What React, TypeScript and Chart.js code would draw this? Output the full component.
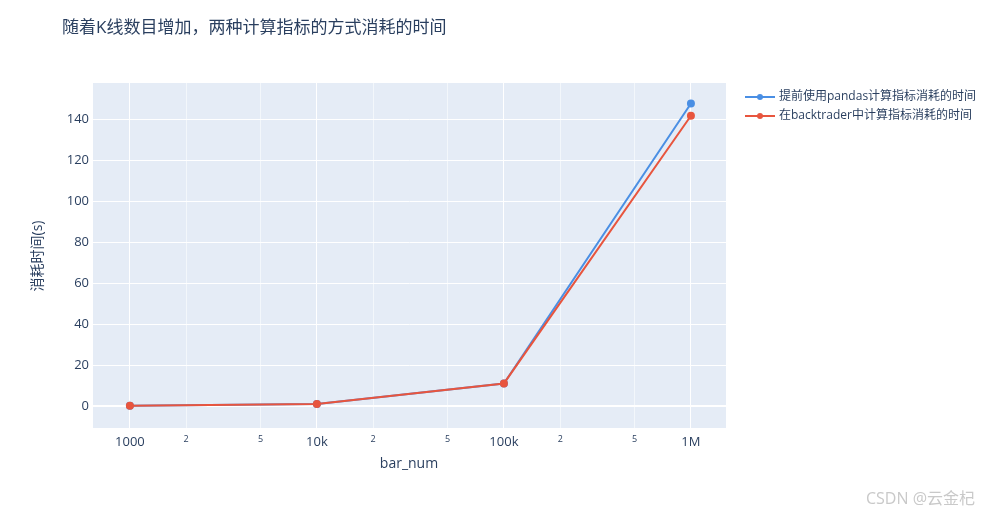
import React, { useEffect, useRef } from "react";
import { Chart, registerables } from "chart.js";

Chart.register(...registerables);

const barNum = [1000, 10000, 100000, 1000000];
const pandasTime = [0.1, 1, 11, 148];
const backtraderTime = [0.1, 1, 11, 142];
const xTicks = [1000, 2000, 5000, 10000, 20000, 50000, 100000, 200000, 500000, 1000000];
const xLabels: Record<number, string> = { 1000: "1000", 10000: "10k", 100000: "100k", 1000000: "1M" };
const yTicks = [0, 20, 40, 60, 80, 100, 120, 140];
const seriesNames = ["提前使用pandas计算指标消耗的时间", "在backtrader中计算指标消耗的时间"];
const colors = ["#4a8fe4", "#e8553e"];

const FONT = '"Open Sans", "Noto Sans CJK SC", sans-serif';
const TEXT = "#2a3f5f";

const overlay = {
  id: "overlay",
  afterDraw(chart: Chart) {
    const c = chart.ctx;
    c.save();
    c.fillStyle = TEXT;
    c.textBaseline = "middle";
    c.font = `17px ${FONT}`;
    c.fillText("随着K线数目增加，两种计算指标的方式消耗的时间", 62, 28);
    c.font = `12px ${FONT}`;
    seriesNames.forEach((name, i) => {
      const y = 97 + i * 19;
      c.strokeStyle = colors[i];
      c.lineWidth = 2;
      c.beginPath();
      c.moveTo(745, y);
      c.lineTo(775, y);
      c.stroke();
      c.fillStyle = colors[i];
      c.beginPath();
      c.arc(760, y, 3, 0, Math.PI * 2);
      c.fill();
      c.fillStyle = TEXT;
      c.fillText(name, 779, y);
    });
    // axis titles
    c.font = `14px ${FONT}`;
    c.textAlign = "center";
    c.fillText("bar_num", 409, 464);
    c.save();
    c.translate(38, 256);
    c.rotate(-Math.PI / 2);
    c.fillText("消耗时间(s)", 0, 0);
    c.restore();
    c.font = `16px ${FONT}`;
    c.fillStyle = "#c9c9c9";
    c.textAlign = "right";
    c.fillText("CSDN @云金杞", 975, 499);
    c.restore();
  },
};

const bg = {
  id: "bg",
  beforeDraw(chart: Chart) {
    const { ctx, chartArea: a } = chart;
    ctx.save();
    ctx.fillStyle = "#e5ecf6";
    ctx.fillRect(a.left, a.top, a.right - a.left, a.bottom - a.top);
    ctx.restore();
  },
};

export default function App() {
  const ref = useRef<HTMLCanvasElement>(null);
  useEffect(() => {
    document.body.style.margin = "0";
    if (!ref.current) return;
    const chart = new Chart(ref.current, {
      type: "line",
      data: {
        datasets: [pandasTime, backtraderTime].map((d, i) => ({
          label: seriesNames[i],
          data: d.map((v, j) => ({ x: barNum[j], y: v })),
          borderColor: colors[i],
          backgroundColor: colors[i],
          borderWidth: 2,
          pointRadius: 3,
          pointHoverRadius: 3,
          tension: 0,
          order: 1 - i,
        })),
      },
      options: {
        animation: false,
        responsive: false,
        layout: { padding: { left: 0, top: 83, right: 265, bottom: 0 } },
        plugins: { legend: { display: false }, tooltip: { enabled: false } },
        scales: {
          x: {
            type: "logarithmic",
            min: 635,
            max: 1540000,
            afterBuildTicks: (s: any) => {
              s.ticks = xTicks.map((v) => ({ value: v, major: !!xLabels[v] }));
            },
            afterFit: (s: any) => {
              s.height = 90;
            },
            ticks: {
              autoSkip: false,
              maxRotation: 0,
              color: TEXT,
              padding: 6,
              callback: (v: any) => xLabels[v as number] ?? String(Number(v) / Math.pow(10, Math.floor(Math.log10(Number(v))))),
              font: (ctx: any) => ({ family: FONT, size: xLabels[ctx.tick?.value] ? 13 : 9 }),
            },
            grid: {
              color: (ctx: any) => (xLabels[ctx.tick?.value] ? "#ffffff" : "rgba(255,255,255,0.7)"),
              lineWidth: (ctx: any) => (xLabels[ctx.tick?.value] ? 1 : 0.8),
              drawTicks: false,
            },
            border: { display: false },
          },
          y: {
            min: -10.8,
            max: 158,
            afterBuildTicks: (s: any) => {
              s.ticks = yTicks.map((v) => ({ value: v }));
            },
            afterFit: (s: any) => {
              s.width = 93;
            },
            ticks: { color: TEXT, font: { family: FONT, size: 13 }, padding: 4 },
            grid: {
              color: "#ffffff",
              lineWidth: (ctx: any) => (ctx.tick?.value === 0 ? 2 : 1),
              drawTicks: false,
            },
            border: { display: false },
          },
        },
      },
      plugins: [bg, overlay],
    });
    return () => chart.destroy();
  }, []);
  return <canvas ref={ref} width={991} height={518} style={{ display: "block" }} />;
}
